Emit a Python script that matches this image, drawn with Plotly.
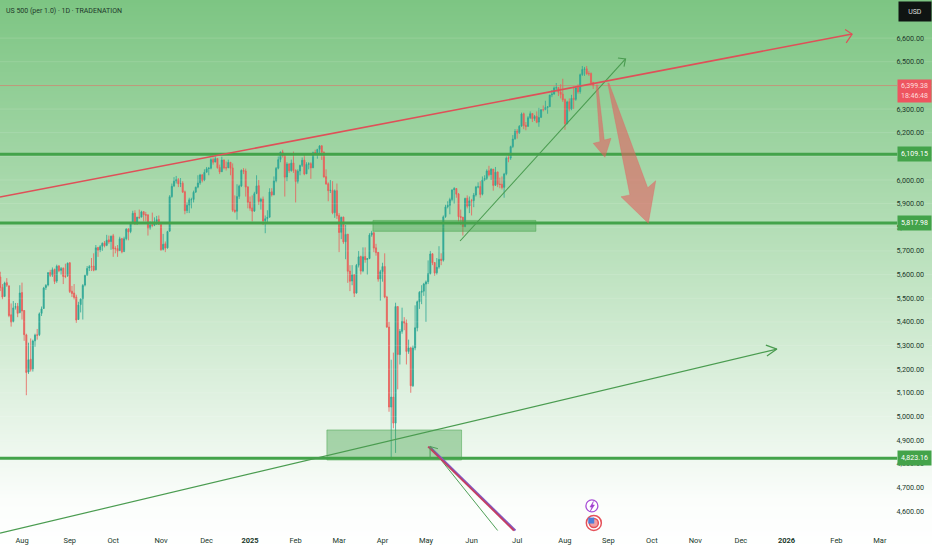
import plotly.graph_objects as go

# ---- candles (Jul 17 2024 .. Aug 20 2025, daily)
opens = [5650,5590,5546,5508,5566,5552,5430,5402,5462,5466,5440,
 5524,5448,5345,5188,5242,5201,5320,5345,5346,5436,5457,5545,5556,5609,5598,5622,5573,5637,5618,5627,5594,5596,
 5650,5530,5522,5505,5410,5473,5498,5556,5598,5628,5635,5636,5620,5715,5705,5720,5734,5724,5747,5740,
 5764,5711,5710,5701,5752,5698,5752,5793,5782,5816,5860,5817,5843,5843,5866,5854,5852,5798,5811,5809,5825,5833,5812,
 5707,5730,5713,5784,5930,5975,5996,6002,5985,5986,5950,5871,5894,5917,5918,5949,5970,5988,6022,6000,
 6033,6048,6050,6087,6076,6091,6053,6035,6085,6052,6052,6075,6051,5873,5868,5931,5975,6041,6038,5971,5907,
 5882,5869,5943,5976,5910,5919,5828,5837,5843,5950,5938,5997,6050,6087,6119,6102,6013,6068,6040,6072,
 6041,5995,6038,6062,6084,6026,6067,6069,6052,6116,6115,6130,6145,6118,6014,5984,5956,5957,5862,
 5955,5850,5779,5843,5739,5771,5615,5573,5600,5522,5640,5676,5616,5676,5664,5668,5768,5777,5713,5694,5582,
 5613,5634,5505,5378,5040,5082,4972,5465,5262,5360,5402,5395,5275,5290,5130,5290,5375,5485,5525,5530,5560,
 5570,5605,5688,5651,5608,5632,5665,5661,5845,5887,5893,5918,5959,5964,5941,5846,5843,5803,5923,5890,5913,
 5913,5937,5971,5972,5940,6001,6007,6039,6023,6046,5978,6034,5983,5982,5969,6026,6093,6093,6142,6174,
 6206,6199,6228,6280,6231,6227,6264,6281,6260,6269,6245,6265,6298,6298,6307,6310,6360,6364,6390,6391,6372,6363,
 6340,6239,6331,6300,6346,6341,6390,6374,6446,6468,6470,6450,6450,6412]
highs = [5662,5612,5560,5570,5585,5555,5478,5488,5480,5480,5555,
 5566,5450,5350,5312,5330,5325,5350,5370,5440,5465,5548,5560,5610,5620,5630,5625,5642,5638,5632,5630,5646,5651,
 5652,5552,5560,5515,5485,5500,5560,5600,5636,5640,5670,5690,5725,5715,5725,5736,5742,5768,5765,5765,
 5772,5720,5725,5760,5755,5760,5796,5796,5822,5870,5872,5845,5875,5870,5868,5865,5856,5825,5862,5842,5848,5850,5810,
 5772,5740,5785,5936,5985,6012,6017,6008,6008,5995,5955,5905,5925,5925,5955,5972,6020,6026,6020,6045,
 6055,6055,6092,6095,6100,6090,6065,6099,6082,6078,6086,6058,6070,5935,5982,5980,6045,6050,6048,5945,5930,
 5935,5950,6020,6000,5925,5930,5850,5872,5965,5965,6015,6055,6100,6120,6128,6110,6075,6070,6086,6120,
 6045,6045,6065,6095,6105,6075,6075,6075,6120,6128,6132,6147,6120,6120,6045,5990,6000,5995,5960,
 5985,5860,5845,5845,5810,5770,5640,5640,5600,5645,5700,5680,5715,5715,5670,5775,5785,5780,5730,5690,5620,
 5650,5690,5510,5400,5240,5270,5481,5465,5370,5460,5420,5410,5325,5295,5300,5470,5490,5530,5555,5565,5575,
 5660,5700,5690,5650,5670,5720,5690,5850,5895,5910,5925,5960,5970,5960,5945,5875,5830,5925,5935,5930,5920,
 5945,5975,5990,5995,6015,6020,6045,6060,6050,6040,6055,6035,6010,6015,6030,6100,6105,6145,6190,6215,
 6215,6232,6285,6285,6245,6270,6290,6280,6275,6290,6305,6300,6315,6335,6312,6360,6380,6395,6410,6375,6405,6428,
 6345,6335,6345,6360,6395,6395,6405,6450,6482,6478,6482,6460,6455,6415]
lows = [5582,5530,5496,5505,5548,5420,5380,5398,5452,5420,5436,
 5410,5320,5090,5180,5190,5190,5295,5325,5340,5425,5455,5535,5550,5590,5590,5560,5565,5610,5600,5560,5585,5590,
 5522,5505,5495,5396,5408,5440,5410,5550,5595,5615,5615,5614,5618,5675,5695,5700,5715,5720,5730,5705,
 5675,5690,5675,5700,5690,5695,5745,5745,5775,5815,5810,5810,5835,5842,5825,5825,5765,5790,5800,5805,5810,5810,5700,
 5702,5695,5710,5780,5925,5970,5985,5970,5970,5945,5855,5860,5860,5880,5905,5945,5965,5980,5990,5995,
 6035,6020,6045,6065,6075,6048,6025,6035,6045,6040,6050,6020,5865,5860,5832,5920,5970,6025,5930,5880,5870,
 5825,5865,5940,5895,5875,5810,5775,5820,5840,5930,5935,5990,6045,6075,6095,5930,5995,6030,6035,6030,
 5905,5985,6020,6055,6020,6030,6045,6005,6050,6105,6090,6110,6085,6010,5980,5910,5945,5855,5840,
 5835,5695,5750,5730,5665,5565,5530,5555,5505,5520,5630,5600,5610,5650,5600,5665,5760,5695,5680,5570,5490,
 5570,5500,5375,5020,4816,4950,4846,5115,5220,5350,5365,5220,5265,5100,5125,5280,5360,5455,5475,5510,5400,
 5560,5600,5640,5595,5600,5625,5640,5655,5840,5880,5855,5910,5900,5925,5825,5810,5765,5800,5880,5860,5850,
 5885,5930,5965,5925,5935,5995,6000,6015,6000,5955,5975,5970,5965,5960,5925,6020,6075,6085,6135,6170,
 6175,6195,6225,6215,6210,6225,6258,6245,6250,6240,6225,6262,6290,6295,6280,6310,6350,6360,6375,6355,6345,6330,
 6212,6235,6290,6295,6300,6335,6365,6365,6440,6440,6445,6440,6400,6385]
closes = [5589,5545,5505,5564,5555,5427,5399,5459,5464,5436,5522,
 5446,5346,5186,5240,5199,5319,5344,5344,5434,5455,5543,5554,5608,5597,5620,5571,5635,5616,5625,5592,5592,5648,
 5528,5520,5503,5408,5471,5496,5554,5596,5626,5633,5634,5618,5713,5703,5718,5732,5722,5745,5738,5762,
 5709,5709,5699,5751,5696,5751,5792,5780,5815,5859,5815,5842,5841,5865,5853,5851,5797,5809,5808,5823,5832,5813,5705,
 5728,5712,5782,5929,5973,5995,6001,5984,5985,5949,5870,5893,5916,5917,5948,5969,5987,6021,5998,6032,
 6047,6049,6086,6075,6090,6052,6034,6084,6051,6051,6074,6050,5872,5867,5930,5974,6040,6037,5970,5906,5881,
 5868,5942,5975,5909,5918,5827,5836,5842,5949,5937,5996,6049,6086,6118,6101,6012,6067,6039,6071,6040,
 5994,6037,6061,6083,6025,6066,6068,6051,6115,6114,6129,6144,6117,6013,5983,5955,5956,5861,5954,
 5849,5778,5842,5738,5770,5614,5572,5599,5521,5639,5675,5615,5675,5663,5667,5767,5776,5712,5693,5581,5612,
 5634,5505,5378,5040,5082,4972,5465,5262,5360,5402,5395,5275,5290,5130,5290,5375,5485,5525,5530,5560,5569,
 5604,5687,5650,5607,5631,5664,5660,5844,5886,5892,5917,5958,5963,5940,5845,5842,5802,5922,5889,5912,5912,
 5936,5970,5971,5939,6000,6006,6038,6022,6045,5977,6033,5982,5981,5968,6025,6092,6092,6141,6173,6205,
 6198,6227,6279,6230,6226,6263,6280,6259,6268,6244,6264,6297,6297,6306,6309,6359,6363,6389,6390,6371,6362,6339,
 6238,6330,6299,6345,6340,6389,6373,6445,6467,6469,6449,6449,6411,6399]
bars = list(range(len(closes)))

# ---- axis labels (bar number of each label)
month_bars = [11,33,53,75,96,116,137,157,177,197,218,239,261,281,301,321,342,363,386,406]
month_labels = ["Aug","Sep","Oct","Nov","Dec","<b>2025</b>","Feb","Mar","Apr","May","Jun","Jul","Aug","Sep","Oct","Nov","Dec","<b>2026</b>","Feb","Mar"]
price_ticks = [4600,4700,4800,4900,5000,5100,5200,5300,5400,5500,5600,5700,5800,5900,6000,6200,6300,6500,6600]
price_labels = [f"{p:,.2f}" for p in price_ticks]
grid_ticks = list(range(4600, 6700, 100))

# ---- axis windows
x_left, x_right = 0.875, 430.0
y_bottom, y_top = 4435.5, 6761.0

# ---- drawings: bar number / price
levels = [6109.15, 5817.98, 4823.16]
level_labels = ["6,109.15", "5,817.98", "4,823.16"]
level_end = 414.0
last_price = 6399.38
last_label = "6,399.38<br>18:46:48"
last_label_price = 6375
zones_x = [(172.6, 247.6), (151.4, 213.4)]
zones_y = [(5783, 5829), (4816, 4943)]
red_line_x, red_line_y = [0.875, 393.2], [5928, 6617]
red_head_x, red_head_y = [390.0, 393.2, 390.5], [6636, 6617, 6580]
up_arrow_x, up_arrow_y = [212.7, 288.9], [5742, 6512]
up_head_x, up_head_y = [285.4, 288.9, 288.2], [6516, 6512, 6479]
long_arrow_x, long_arrow_y = [0.875, 358.6], [4507, 5285]
long_head_x, long_head_y = [353.5, 358.6, 354.0], [5302, 5285, 5256]
down_green_x, down_green_y = [199.0, 230.0], [4873, 4518]
down_red_x, down_red_y = [198.0, 237.5], [4873, 4518]
down_purple_x, down_purple_y = [198.6, 238.2], [4873, 4518]
flag_x, flag_y = [202.5, 198.9, 198.9], [4864, 4873, 4826]
small_fall_x = [275.3, 277.1, 274.0, 279.4, 282.2, 279.1, 276.1, 275.3]
small_fall_y = [6402, 6162, 6155, 6096, 6176, 6169, 6402, 6402]
big_fall_x = [280.7, 290.9, 286.8, 299.4, 302.8, 299.1, 281.3, 280.7]
big_fall_y = [6409, 5937, 5929, 5817, 5997, 5967, 6409, 6409]
event_bar = [273.4, 274.3]
event_price = [4622, 4550]
bolt_x = [274.1, 272.5, 273.4, 272.7, 274.6, 273.6, 274.1]
bolt_y = [4641, 4617, 4617, 4600, 4626, 4626, 4641]
bg_pixels = [0, 50, 100, 150, 200, 250, 300, 350, 400, 450, 500, 550]
bg_shades = [0.0, 0.09, 0.18, 0.27, 0.37, 0.47, 0.57, 0.67, 0.77, 0.87, 0.97, 1.0]

GREEN = "#43a34a"
TEXT = "#20382a"
FONT = "Roboto, sans-serif"

fig = go.Figure()

# gradient background
px_per_price = 550 / (y_top - y_bottom)
bg_prices = [y_top - p / px_per_price for p in bg_pixels]
fig.add_trace(go.Heatmap(
    x=[x_left, x_right], y=bg_prices, z=[[s, s] for s in bg_shades],
    zmin=0, zmax=1, zsmooth="best", showscale=False, hoverinfo="skip",
    colorscale=[[0, "#7dc583"], [0.5, "#bde2bf"], [1, "#ffffff"]]))

# faint grid
gx, gy = [], []
for p in grid_ticks:
    gx += [x_left, x_right, None]
    gy += [p, p, None]
fig.add_trace(go.Scatter(x=gx, y=gy, mode="lines", line=dict(color="rgba(255,255,255,0.13)", width=1), hoverinfo="skip"))

# zones
for (x0, x1), (y0, y1) in zip(zones_x, zones_y):
    fig.add_trace(go.Scatter(x=[x0, x1, x1, x0, x0], y=[y0, y0, y1, y1, y0], mode="lines", fill="toself",
                             fillcolor="rgba(67,163,74,0.42)", line=dict(color="rgba(67,163,74,0.5)", width=1), hoverinfo="skip"))

# candles
fig.add_trace(go.Candlestick(
    x=bars, open=opens, high=highs, low=lows, close=closes, whiskerwidth=0,
    increasing=dict(line=dict(color="#2ea795", width=0.8), fillcolor="#2ea795"),
    decreasing=dict(line=dict(color="#e8605a", width=0.8), fillcolor="#e8605a"),
    hoverinfo="skip"))

# price lines
fig.add_trace(go.Scatter(x=[x_left, level_end], y=[last_price, last_price], mode="lines",
                         line=dict(color="rgba(226,90,80,0.6)", width=0.8), hoverinfo="skip"))
for lv in levels:
    fig.add_trace(go.Scatter(x=[x_left, level_end], y=[lv, lv], mode="lines",
                             line=dict(color=GREEN, width=3), hoverinfo="skip"))

def stroke(xs, ys, color, width):
    fig.add_trace(go.Scatter(x=xs, y=ys, mode="lines", line=dict(color=color, width=width), hoverinfo="skip"))

# falling arrows at the bottom
stroke(down_purple_x, down_purple_y, "#7f5bc4", 2)
stroke(down_green_x, down_green_y, "#4f9f58", 1)
stroke(down_red_x, down_red_y, "#c43c62", 1.8)
stroke(flag_x, flag_y, "#4f9f58", 1)

# trend lines
stroke(long_arrow_x, long_arrow_y, "#4a9c50", 1.2)
stroke(long_head_x, long_head_y, "#4a9c50", 1.2)
stroke(up_arrow_x, up_arrow_y, "#4a9c50", 1.1)
stroke(up_head_x, up_head_y, "#4a9c50", 1.1)
stroke(red_line_x, red_line_y, "#df5058", 1.6)
stroke(red_head_x, red_head_y, "#df5058", 1.2)

# big translucent red arrows
for xs, ys in ((small_fall_x, small_fall_y), (big_fall_x, big_fall_y)):
    fig.add_trace(go.Scatter(x=xs, y=ys, mode="lines", fill="toself", fillcolor="rgba(226,96,96,0.6)",
                             line=dict(color="rgba(226,96,96,0.4)", width=0.8), hoverinfo="skip"))

# event markers
fig.add_trace(go.Scatter(x=event_bar[:1], y=event_price[:1], mode="markers",
                         marker=dict(size=12, color="#ffffff", line=dict(color="#a84fd6", width=1.3)), hoverinfo="skip"))
fig.add_trace(go.Scatter(x=bolt_x, y=bolt_y, mode="lines", fill="toself", fillcolor="#a23fd0",
                         line=dict(color="#a23fd0", width=0.5), hoverinfo="skip"))
fig.add_trace(go.Scatter(x=event_bar[1:], y=event_price[1:], mode="markers",
                         marker=dict(size=15, color="#ffffff", line=dict(color="#e5525a", width=1.5)), hoverinfo="skip"))
fig.add_trace(go.Scatter(x=event_bar[1:], y=event_price[1:], mode="markers",
                         marker=dict(size=9, color="#f2a0a4", line=dict(color="#e5525a", width=1.5)), hoverinfo="skip"))
fig.add_trace(go.Scatter(x=[event_bar[1] - 1.2], y=[event_price[1] + 10], mode="markers",
                         marker=dict(size=6, color="#4f7fd8", symbol="square"), hoverinfo="skip"))

annotations = [
    dict(xref="paper", yref="paper", x=0.0043, y=0.98, xanchor="left", yanchor="middle", showarrow=False,
         text="US 500 (per 1.0) · 1D · TRADENATION", font=dict(size=7, color=TEXT, family=FONT)),
    dict(xref="paper", yref="paper", x=0.9815, y=0.9785, xanchor="center", yanchor="middle", showarrow=False,
         text="USD", width=30, height=17, bgcolor="#0f1412", font=dict(size=7, color="#dddddd", family=FONT)),
    dict(xref="paper", y=last_label_price, yref="y", x=0.9807, xanchor="center", yanchor="middle", showarrow=False,
         text=last_label, width=31, height=20, bgcolor="#ee5560", font=dict(size=7, color="#ffdddd", family=FONT)),
]
for lv, lab in zip(levels, level_labels):
    annotations.append(dict(xref="paper", yref="y", x=0.9807, y=lv, xanchor="center", yanchor="middle", showarrow=False,
                            text=lab, width=31, height=12, bgcolor=GREEN, font=dict(size=7, color="#ffffff", family=FONT)))

fig.update_layout(
    width=932, height=550, margin=dict(l=0, r=0, t=0, b=0),
    paper_bgcolor="#ffffff", plot_bgcolor="#ffffff", showlegend=False,
    annotations=annotations,
    xaxis=dict(range=[x_left, x_right], tickmode="array", tickvals=month_bars, ticktext=month_labels,
               ticklabelposition="inside", ticklabelstandoff=3, ticks="", showgrid=False, zeroline=False,
               rangeslider=dict(visible=False), tickfont=dict(size=7.5, color=TEXT, family=FONT)),
    yaxis=dict(range=[y_bottom, y_top], side="right", tickmode="array", tickvals=price_ticks, ticktext=price_labels,
               ticklabelposition="inside", ticklabelstandoff=5, ticks="", showgrid=False, zeroline=False,
               tickfont=dict(size=7.2, color=TEXT, family=FONT)),
)
fig.write_html("out.html", post_script="document.body.style.margin='0';", config=dict(displayModeBar=False))
